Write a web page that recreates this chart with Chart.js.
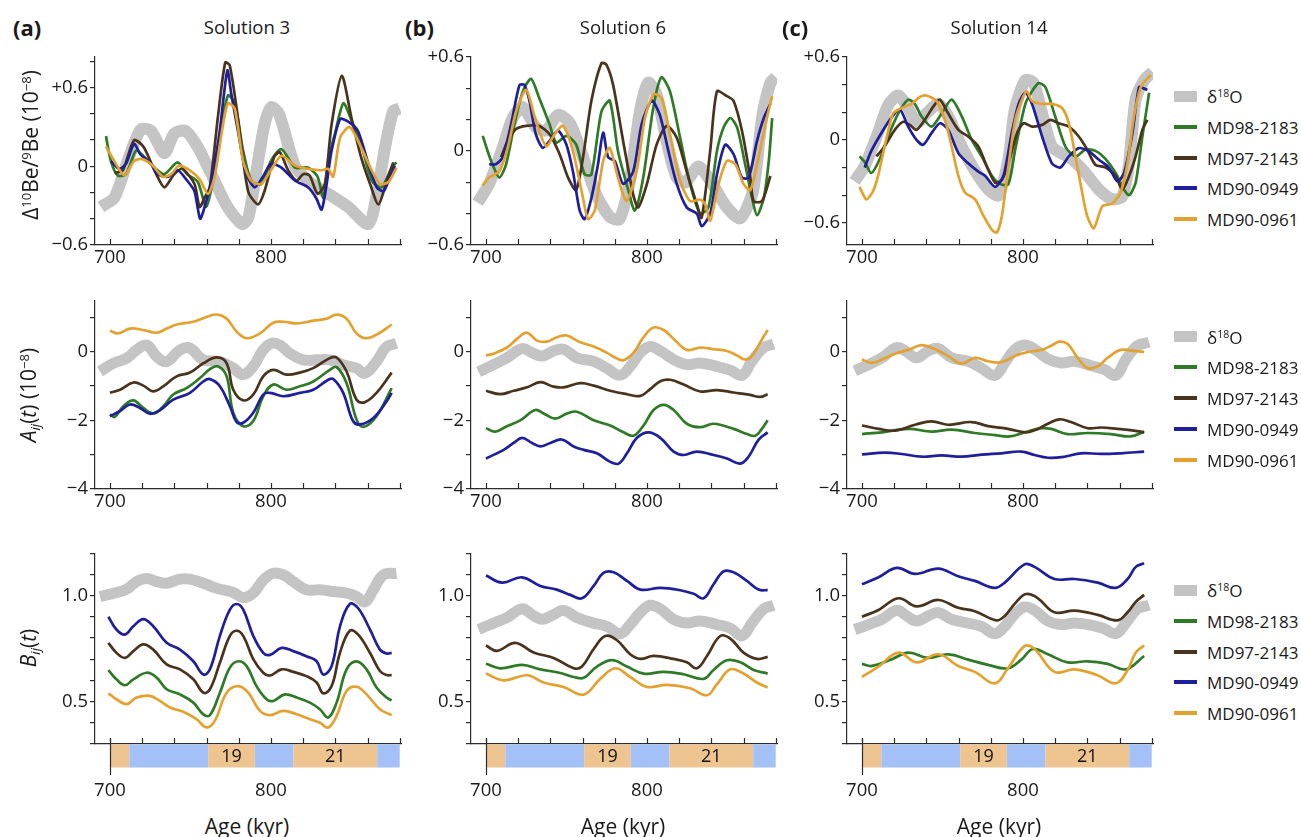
<!DOCTYPE html>
<html>
<head>
<meta charset="utf-8">
<script src="https://cdn.jsdelivr.net/npm/chart.js@4.4.0/dist/chart.umd.min.js"></script>
<style>
  body { margin: 0; background: #fff; font-family: 'Open Sans', sans-serif; color: #1a1a1a; }
  #fig { position: relative; width: 1301px; height: 837px; overflow: hidden; }
  #fig canvas { position: absolute; }
  .txt { position: absolute; white-space: nowrap; line-height: 1; }
  .txt sup { font-size: 0.62em; vertical-align: baseline; position: relative; top: -0.55em; }
  .txt sub { font-size: 0.62em; vertical-align: baseline; position: relative; top: 0.3em; }
</style>
</head>
<body>
<div id="fig"></div>
<script>
// ---- series names / colours ----
const seriesNames = ['δ<sup>18</sup>O', 'MD98-2183', 'MD97-2143', 'MD90-0949', 'MD90-0961'];
const seriesColors = ['#c4c4c4', '#2f7a26', '#4a331c', '#1f1f9c', '#e3a230'];

// ---- x axis (Age, kyr) ----
const xTicks = [700, 720, 740, 760, 780, 800, 820, 840, 860, 880];
const xLabels = [700, 800];

// ---- marine isotope stages under the bottom row ----
const misStart = [700, 712, 761, 790, 814, 866];
const misEnd   = [712, 761, 790, 814, 866, 880];
const misWarm  = [true, false, true, false, true, false];
const misNames = ['', '', '19', '', '21', ''];

// ---- Row 1: Δ10Be/9Be ----
const beTicksSol3 = [-0.6, -0.4, -0.2, 0, 0.2, 0.4, 0.6, 0.8];
const beTicks = [-0.6, -0.4, -0.2, 0, 0.2, 0.4, 0.6];
const beLabels = [-0.6, 0, 0.6];

const be3_d18O = [[694.4,-0.31],[702.7,-0.24],[711,0.04],[719,0.28],[725.5,0.27],[733.8,0.1],[740,0.25],[747,0.27],[754.6,0.145],[763,-0.06],[773,-0.31],[782,-0.44],[786,-0.39],[792,0.04],[796,0.32],[800,0.45],[805,0.4],[815,0.0],[825,-0.13],[835.6,-0.21],[848,-0.31],[860.5,-0.44],[866,-0.2],[871,0.15],[876,0.42],[880,0.44]];
const be3_md98 = [[697.5,0.23],[700.6,0.04],[704.8,-0.07],[710,-0.06],[716.2,0.12],[721.4,0.07],[727.6,-0.01],[733.8,-0.06],[742,0.03],[748,-0.06],[754.6,-0.12],[759.8,-0.31],[764,-0.11],[769,0.27],[773.3,0.54],[777.5,0.48],[782.7,0.12],[787.8,-0.11],[794,-0.135],[800,0.04],[806.5,0.13],[815,-0.01],[823,-0.01],[829,-0.08],[832.5,-0.24],[835.6,0.04],[839.8,0.25],[845,0.48],[850,0.35],[856,0.17],[862.6,-0.11],[868.8,-0.16],[875,-0.01],[878,0.03]];
const be3_md97 = [[703,-0.05],[708,-0.03],[715,0.2],[721,0.145],[728.7,-0.06],[733.8,-0.16],[740,-0.06],[745,-0.02],[752.5,-0.135],[755.7,-0.31],[758.8,-0.24],[762,-0.16],[767,0.37],[771.6,0.79],[774.4,0.77],[779.5,0.37],[785.8,-0.19],[792,-0.29],[796,-0.19],[802,0.07],[805.5,0.107],[810.7,-0.03],[815.9,-0.11],[820,-0.06],[824,-0.07],[829,-0.21],[833.5,-0.135],[837.7,0.32],[844,0.69],[850,0.37],[856,0.07],[861.6,-0.135],[866.8,-0.29],[872,-0.11],[876,0.03]];
const be3_md0949 = [[700.6,0.04],[705.8,-0.02],[710,0.02],[715,0.17],[719,0.09],[725.5,0.02],[729.7,-0.06],[736,-0.08],[742,-0.03],[748,-0.11],[752.5,-0.19],[756,-0.4],[758.8,-0.31],[763,-0.11],[768,0.25],[772.9,0.73],[775.4,0.55],[779.5,0.27],[784.7,-0.06],[790,-0.16],[795,-0.08],[800,0.02],[806.5,-0.01],[815,-0.11],[823,-0.16],[828,-0.24],[831.5,-0.33],[834.6,-0.135],[837.7,0.12],[843,0.36],[848,0.34],[854,0.27],[860.5,0.02],[865.7,-0.16],[870,-0.19],[874,-0.08],[877,0.005]];
const be3_md0961 = [[697.5,0.15],[702.7,0.04],[709,-0.07],[715,0.04],[720,0.055],[726.6,0.005],[732.8,-0.08],[738,-0.06],[743,0.005],[749.4,-0.03],[755.7,-0.1],[760.9,-0.21],[765,-0.08],[770,0.3],[773.3,0.48],[777.5,0.44],[782.7,0.04],[787.8,-0.11],[794,-0.135],[800,-0.03],[806.5,0.08],[815,0.005],[823,-0.02],[831.5,-0.03],[835.6,-0.02],[838.7,-0.08],[843,0.22],[849,0.3],[856,0.145],[862.6,-0.03],[867.8,-0.135],[873,-0.12],[878,-0.01]];

const be6_d18O = [[694.8,-0.33],[702,-0.21],[710.4,0.02],[716.6,0.21],[722.9,0.28],[731,0.15],[737.4,0.13],[744.7,0.23],[752,0.18],[760.3,-0.04],[768.6,-0.28],[776.9,-0.42],[783,-0.435],[789.4,-0.19],[795.6,0.25],[800.8,0.435],[806,0.36],[812.3,0.06],[818.5,-0.17],[824,-0.2],[832,-0.1],[840,-0.2],[849.7,-0.36],[858,-0.43],[866,-0.25],[871.5,0.21],[876.7,0.435],[880,0.47]];
const be6_md98 = [[698,0.096],[701,0],[704,-0.085],[708.3,-0.17],[712.5,-0.085],[717.7,0.17],[722.9,0.38],[728,0.46],[733,0.34],[739.5,0.17],[743.7,0.053],[750,0.096],[756,0.042],[761.3,-0.15],[765.5,-0.15],[771.7,0.25],[776.9,0.32],[782,0],[788.4,-0.25],[792.5,-0.38],[797.7,-0.17],[804,0.28],[809,0.47],[814.3,0.38],[820.6,0.085],[826.8,-0.21],[833,-0.4],[838.2,-0.36],[843.5,0],[847.6,0.15],[851.8,0.21],[856,0.15],[861,-0.085],[865.3,-0.3],[868.4,-0.41],[872.6,-0.3],[875.7,-0.064],[877.8,0.21]];
const be6_md97 = [[709.4,-0.04],[713.5,0.064],[718.7,0.14],[725,0.16],[733,0.16],[739.5,0.106],[745.7,-0.02],[751,-0.17],[756,-0.25],[760.3,-0.04],[765.5,0.32],[771.7,0.56],[774.8,0.55],[779,0.42],[785.2,0.064],[791.5,-0.28],[794.6,-0.36],[800,-0.21],[806,0.04],[812.3,0.16],[818.5,0.085],[824.7,-0.13],[831,-0.34],[834,-0.425],[839.3,0],[843.5,0.38],[849.7,0.35],[853.8,0.32],[859,0.13],[864.2,-0.17],[866.3,-0.32],[871.5,-0.32],[876.7,-0.16]];
const be6_md0949 = [[702,-0.085],[706,-0.085],[710.4,-0.04],[715.6,0.17],[720.8,0.42],[723.9,0.42],[727,0.32],[731,0.106],[735.3,0.02],[739.5,0.064],[744.7,0.13],[750,0.04],[754,-0.13],[758.2,-0.38],[761.3,-0.435],[765.5,-0.3],[769.6,-0.085],[772.8,0.117],[775.9,-0.04],[780,-0.064],[785.2,-0.21],[791.5,-0.13],[796.7,0.17],[803,0.32],[808,0.23],[813.3,0],[818.5,-0.21],[824.7,-0.36],[831,-0.4],[834,-0.48],[839.3,-0.4],[843.5,-0.15],[848.6,0.04],[853.8,-0.02],[859,-0.17],[863.2,-0.17],[868.4,0.064],[872.6,0.21],[876.7,0.3]];
const be6_md0961 = [[698,-0.22],[702,-0.17],[708.3,-0.13],[713.5,0.02],[718.7,0.25],[725,0.39],[731,0.19],[737.4,0.03],[742.6,0.106],[747.8,0.16],[754,0],[760.3,-0.3],[763.4,-0.435],[767.6,-0.38],[772.8,-0.064],[776.9,0.02],[782,-0.17],[787.3,-0.32],[793.6,-0.13],[798.8,0.21],[804,0.36],[809,0.34],[814.3,0.106],[820.6,-0.19],[826.8,-0.32],[833,-0.31],[836.2,-0.34],[839.3,-0.445],[844.5,-0.21],[849.7,-0.064],[854.9,-0.085],[860,-0.21],[864.2,-0.25],[868.4,-0.085],[873.6,0.17],[877.8,0.35]];

const be14_d18O = [[695.4,-0.3],[701.7,-0.19],[710,0.05],[716.2,0.25],[722.5,0.32],[728.7,0.23],[733.9,0.12],[740,0.19],[747.4,0.26],[753.6,0.17],[762,-0.05],[770,-0.22],[778.6,-0.36],[784.8,-0.4],[791,-0.14],[795,0.22],[801.5,0.43],[806.7,0.41],[811.9,0.19],[818,-0.05],[824.3,-0.1],[830.5,-0.14],[838.9,-0.24],[847.2,-0.36],[855.5,-0.43],[861.7,-0.41],[865.9,-0.17],[870,0.29],[875.3,0.43],[880.5,0.49]];
const be14_md98 = [[698.5,-0.12],[701.7,-0.16],[705.8,-0.24],[711,-0.14],[716.2,0.024],[722.5,0.19],[728.7,0.29],[732.8,0.26],[737,0.17],[743.2,0.096],[749.5,0.19],[755.7,0.29],[762,0.17],[768.2,0],[774.4,-0.12],[780.7,-0.26],[785.9,-0.32],[791,-0.32],[795.2,-0.07],[801.5,0.26],[805.6,0.35],[809.8,0.41],[814,0.38],[820,0.17],[826.4,-0.05],[832.6,-0.12],[838.9,-0.07],[845,-0.08],[851.4,-0.14],[857.6,-0.24],[862.8,-0.36],[866,-0.4],[870,-0.31],[874.2,0.024],[878.4,0.34]];
const be14_md97 = [[709,-0.12],[714,-0.048],[720.4,0.072],[725.6,0.13],[729.7,0.108],[733.9,0.072],[739,0.144],[744.3,0.24],[748.4,0.29],[753.6,0.19],[759.9,0.072],[766,0.024],[772.3,-0.048],[777.5,-0.19],[782.7,-0.31],[786.9,-0.29],[791,-0.17],[796.3,0.048],[800.4,0.12],[805.6,0.096],[811.9,0.108],[817,0.144],[822.2,0.12],[828.5,0.096],[834.7,0.024],[839.9,-0.07],[845,-0.18],[851.4,-0.2],[857.6,-0.26],[861.7,-0.36],[866,-0.26],[870,-0.12],[874.2,0.072],[877.3,0.144]];
const be14_md0949 = [[701.7,-0.2],[705.8,-0.08],[712,0.048],[718.3,0.16],[723.5,0.22],[728.7,0.096],[733.9,0],[738,-0.036],[743.2,0.048],[748.4,0.12],[753.6,0.072],[759.9,-0.096],[766,-0.17],[772.3,-0.23],[776.5,-0.26],[782.7,-0.34],[787.9,-0.26],[793,0.048],[797.3,0.26],[801.5,0.34],[805.6,0.26],[811.9,0.024],[818,-0.17],[823.3,-0.2],[828.5,-0.12],[834.7,-0.06],[841,-0.084],[847.2,-0.144],[853.4,-0.2],[858.6,-0.3],[862.8,-0.24],[868,0.048],[872.1,0.38],[875.3,0.37],[877.3,0.36]];
const be14_md0961 = [[698.5,-0.34],[702.7,-0.43],[706.9,-0.37],[710,-0.26],[714.1,-0.048],[719.3,0.19],[724.5,0.23],[730.8,0.26],[736,0.31],[740,0.32],[746.4,0.28],[751.6,0.144],[755.7,-0.048],[759.9,-0.26],[764,-0.38],[770.3,-0.43],[775.5,-0.55],[780.7,-0.65],[783.8,-0.67],[786.9,-0.55],[791,-0.19],[795.2,0.144],[799.4,0.29],[802.5,0.35],[805.6,0.28],[811.9,0.26],[818,0.26],[824.3,0.23],[828.5,0.12],[832.6,-0.12],[836.8,-0.38],[839.9,-0.55],[844,-0.64],[849.3,-0.48],[855.5,-0.46],[860.7,-0.38],[864.9,-0.17],[869,0.17],[873.2,0.38],[879.4,0.47]];

// ---- Row 2: A_ij(t) ----
const aTicks = [-4, -3, -2, -1, 0, 1];
const aLabels = [-4, -2, 0];

const a3_d18O = [[693.8,-0.58],[702,-0.34],[710.4,-0.19],[716.6,0.05],[722.8,0.19],[729,-0.14],[735.2,-0.29],[743.5,0.05],[749.7,0.1],[758,-0.24],[768.3,-0.29],[776.6,-0.48],[782.8,-0.67],[789,-0.43],[795.2,0.05],[800.4,0.24],[805.6,0.19],[811.8,-0.05],[820,-0.24],[828.4,-0.24],[836.6,-0.24],[845,-0.39],[853.2,-0.48],[858.4,-0.63],[865.6,-0.29],[871.8,0.14],[878,0.24]];
const a3_md98 = [[700,-1.83],[703,-1.9],[708.3,-1.59],[714.5,-1.42],[720.7,-1.64],[726.9,-1.8],[733.1,-1.59],[739.3,-1.25],[747.6,-1.06],[755.9,-0.77],[762.1,-0.51],[767.3,-0.43],[772.5,-0.72],[776.6,-1.78],[782.8,-2.17],[789,-2.02],[795.2,-1.3],[801.4,-0.96],[809.7,-1.11],[818,-1.01],[826.3,-0.87],[836.6,-0.53],[840.8,-0.45],[847,-0.92],[853.2,-1.98],[857.4,-2.19],[865.6,-1.88],[875,-1.06]];
const a3_md97 = [[700,-1.2],[706.2,-1.11],[714.5,-0.9],[720.7,-0.99],[726.9,-1.16],[733.1,-1.01],[741.4,-0.72],[749.7,-0.61],[758,-0.34],[766.3,-0.17],[772.5,-0.34],[776.6,-1.11],[782.8,-1.42],[789,-1.25],[795.2,-0.72],[801.4,-0.53],[809.7,-0.67],[818,-0.61],[826.3,-0.48],[836.6,-0.19],[840.8,-0.17],[847,-0.58],[853.2,-1.4],[858.4,-1.47],[865.6,-1.2],[875,-0.61]];
const a3_md0949 = [[700,-1.88],[706.2,-1.73],[712.4,-1.54],[718.6,-1.64],[724.8,-1.81],[731,-1.71],[739.3,-1.4],[749.7,-1.2],[758,-0.87],[762.1,-0.8],[768.3,-1.01],[774.5,-1.59],[778.7,-2.05],[782.8,-2.07],[789,-1.78],[795.2,-1.25],[799.4,-1.2],[807.7,-1.3],[818,-1.2],[826.3,-1.11],[835.6,-0.82],[838.7,-0.8],[844.9,-1.2],[851,-2.02],[855.3,-2.12],[863.6,-1.93],[871.8,-1.45],[875,-1.2]];
const a3_md0961 = [[700,0.61],[705,0.53],[712.4,0.67],[720.7,0.63],[729,0.55],[735.2,0.67],[741.4,0.79],[751.8,0.87],[760,1.01],[766.3,1.08],[772.5,0.96],[778.7,0.58],[784.9,0.39],[793.2,0.53],[801.4,0.84],[807.7,0.87],[816,0.82],[826.3,0.9],[834.6,0.96],[840.8,1.08],[847,0.96],[853.2,0.53],[859.4,0.39],[867.7,0.55],[875,0.79]];

const a6_d18O = [[695.4,-0.59],[704.8,-0.38],[713,-0.18],[722.4,0.09],[728.6,-0.03],[734.8,-0.13],[742,0.02],[748.2,0.07],[756.5,-0.18],[766.9,-0.28],[775,-0.48],[783.4,-0.69],[789.6,-0.43],[795.9,-0.03],[802,0.15],[808.3,0.02],[816.6,-0.23],[824.8,-0.38],[833,-0.33],[843.5,-0.43],[851.8,-0.54],[859,-0.69],[865.2,-0.28],[872.5,0.12],[878.7,0.22]];
const a6_md98 = [[700,-2.23],[705.8,-2.33],[713,-2.17],[721.3,-2.0],[730.6,-1.7],[735.8,-1.8],[743,-1.95],[750.3,-1.8],[756.5,-1.75],[766.9,-2.0],[777.2,-2.15],[785.5,-2.35],[791.7,-2.45],[797.9,-2.15],[804.1,-1.7],[810.4,-1.55],[816.6,-1.7],[824.8,-2.1],[833.1,-2.2],[841.4,-2.1],[853.8,-2.25],[862.1,-2.4],[867.3,-2.45],[871.4,-2.25],[875,-2.0]];
const a6_md97 = [[700,-1.14],[708.9,-1.24],[717.2,-1.14],[725.5,-1.04],[733.7,-0.89],[742,-1.02],[748.2,-1.04],[758.6,-0.92],[766.9,-0.99],[777.2,-1.14],[787.6,-1.24],[795.9,-1.29],[802,-1.09],[808.3,-0.86],[814.5,-0.82],[822.8,-0.96],[833.1,-1.16],[843.5,-1.12],[853.8,-1.19],[864.2,-1.26],[870.4,-1.32],[875,-1.24]];
const a6_md0949 = [[700,-3.11],[711,-2.86],[717.2,-2.66],[722.4,-2.51],[728.6,-2.66],[733.7,-2.76],[740,-2.66],[747.2,-2.56],[754.5,-2.76],[760.7,-2.86],[768.9,-2.96],[777.2,-3.21],[782.4,-3.26],[787.6,-2.96],[793.8,-2.51],[801,-2.35],[808.3,-2.51],[816.6,-2.91],[822.8,-3.01],[831,-2.91],[841.4,-3.01],[849.7,-3.11],[858,-3.26],[863.1,-3.06],[869.4,-2.56],[875,-2.35]];
const a6_md0961 = [[700,-0.11],[704.8,-0.06],[713,0.12],[719.3,0.37],[725.5,0.55],[731.7,0.32],[737.9,0.29],[744,0.42],[750.3,0.47],[758.6,0.27],[766.9,0.15],[775,-0.03],[781.4,-0.2],[785.5,-0.25],[791.7,-0.03],[797.9,0.42],[804.1,0.7],[810.4,0.63],[816.6,0.37],[824.8,0.05],[833.1,0.12],[841.4,0.07],[849.7,0.02],[855.9,-0.11],[861,-0.23],[865.2,-0.13],[870.4,0.27],[875,0.63]];

const a14_d18O = [[695.5,-0.56],[704,-0.38],[712.4,-0.18],[721.6,0.12],[727.8,-0.01],[734,-0.18],[741.2,0.02],[747.4,0.09],[755.7,-0.18],[766,-0.28],[774.2,-0.48],[782.5,-0.69],[788.7,-0.33],[794.8,0.05],[801,0.19],[807.2,0.07],[815.5,-0.21],[823.7,-0.33],[832,-0.28],[842.3,-0.41],[850.5,-0.52],[857.7,-0.69],[863.9,-0.23],[871.1,0.17],[878.4,0.27]];
const a14_md98 = [[700,-2.4],[712.4,-2.35],[728.9,-2.25],[743.3,-2.33],[755.7,-2.27],[770.1,-2.37],[782.5,-2.43],[791.8,-2.47],[801,-2.35],[811.3,-2.23],[817.5,-2.25],[827.8,-2.4],[840.2,-2.37],[854.6,-2.4],[867,-2.47],[875.3,-2.33]];
const a14_md97 = [[700,-2.15],[710.3,-2.25],[720.6,-2.3],[733,-2.13],[743.3,-2.03],[753.6,-2.13],[768,-2.05],[778.4,-2.17],[790.7,-2.25],[802,-2.35],[809.3,-2.25],[815.5,-2.1],[822.7,-1.97],[829.9,-2.05],[840.2,-2.23],[848.5,-2.21],[858.8,-2.25],[869,-2.3],[875.3,-2.35]];
const a14_md0949 = [[700,-2.99],[714.4,-2.94],[724.7,-2.98],[737.1,-3.06],[749.5,-3.02],[761.9,-3.06],[774.2,-3.0],[786.6,-2.96],[799,-2.91],[807.2,-3.01],[815.5,-3.09],[825.8,-3.06],[836,-2.96],[848.5,-2.98],[860.8,-2.96],[875.3,-2.91]];
const a14_md0961 = [[700,-0.23],[706.2,-0.33],[712.4,-0.23],[720.6,-0.06],[728.9,0.05],[737.1,0.19],[745.4,0.07],[753.6,-0.13],[761.9,-0.35],[770.1,-0.18],[778.4,-0.28],[786.6,-0.31],[794.8,-0.13],[803.1,-0.01],[811.3,0.05],[817.5,0.17],[822.7,0.29],[827.8,0.22],[834,-0.18],[840.2,-0.48],[846.4,-0.43],[852.6,-0.18],[860.8,0.05],[869,0.02],[875.3,-0.01]];

// ---- Row 3: B_ij(t) ----
const bTicks = [0.3, 0.4, 0.5, 0.6, 0.7, 0.8, 0.9, 1.0, 1.1, 1.2];
const bLabels = [0.5, 1.0];

const b3_d18O = [[693.8,0.995],[702,1.01],[710.4,1.03],[716.6,1.066],[722.8,1.08],[729,1.066],[735.2,1.058],[743.5,1.077],[749.7,1.077],[758,1.058],[766.3,1.034],[776.6,1.014],[782.8,0.99],[789,1.011],[795.2,1.073],[801.4,1.105],[807.7,1.097],[813.9,1.066],[822,1.027],[830.4,1.027],[838.7,1.019],[847,1.011],[853.2,0.995],[858.4,0.97],[863.6,1.027],[869.8,1.097],[878,1.105]];
const b3_md98 = [[699,0.648],[704,0.605],[709.3,0.577],[714.5,0.605],[722.8,0.636],[729,0.613],[735.2,0.558],[743.5,0.534],[751.8,0.495],[758,0.44],[762.1,0.436],[768.3,0.542],[774.5,0.66],[779.7,0.69],[784.9,0.667],[791,0.573],[797.3,0.511],[801.4,0.503],[808.7,0.534],[816,0.519],[824.2,0.495],[830.4,0.464],[835.6,0.425],[840.8,0.495],[847,0.652],[853.2,0.69],[859.4,0.652],[865.6,0.566],[871.8,0.519],[875,0.506]];
const b3_md97 = [[699,0.777],[704,0.73],[709.3,0.706],[714.5,0.738],[720.7,0.77],[726.9,0.745],[735.2,0.675],[743.5,0.652],[751.8,0.605],[758,0.542],[762.1,0.558],[768.3,0.683],[774.5,0.81],[778.7,0.834],[782.8,0.81],[789,0.7],[795.2,0.636],[799.4,0.623],[806.6,0.652],[813.9,0.64],[822,0.62],[828.4,0.59],[832.5,0.539],[837.7,0.573],[842.9,0.73],[849,0.834],[854.2,0.816],[861.5,0.73],[867.7,0.644],[871.8,0.625],[875,0.625]];
const b3_md0949 = [[699,0.9],[704,0.84],[709.3,0.816],[714.5,0.855],[720.7,0.889],[726.9,0.855],[735.2,0.777],[743.5,0.745],[751.8,0.69],[758,0.628],[762.1,0.652],[768.3,0.81],[774.5,0.933],[778.7,0.96],[782.8,0.933],[789,0.81],[795.2,0.73],[799.4,0.72],[806.6,0.753],[813.9,0.738],[822,0.714],[828.4,0.69],[832.5,0.628],[837.7,0.667],[842.9,0.855],[849,0.96],[854.2,0.94],[861.5,0.84],[867.7,0.745],[871.8,0.727],[875,0.73]];
const b3_md0961 = [[699,0.539],[704,0.511],[710.4,0.488],[716.6,0.519],[724.8,0.527],[731,0.503],[737.3,0.472],[745.5,0.452],[753.8,0.417],[760,0.378],[765.2,0.41],[772.5,0.542],[779.7,0.573],[785.9,0.542],[793.2,0.456],[799.4,0.436],[807.7,0.456],[816,0.44],[824.2,0.417],[830.4,0.4],[835.6,0.378],[840.8,0.433],[847,0.55],[853.2,0.57],[859.4,0.534],[867.7,0.464],[875,0.436]];

const b6_d18O = [[695.4,0.84],[704.8,0.87],[713,0.896],[722.4,0.937],[728.6,0.91],[734.8,0.888],[742,0.91],[748.2,0.93],[756.5,0.896],[766.9,0.87],[775,0.855],[783.4,0.82],[789.6,0.863],[795.9,0.92],[802,0.954],[808.3,0.937],[816.6,0.888],[824.8,0.87],[833,0.88],[843.5,0.863],[851.8,0.846],[859,0.81],[865.2,0.87],[872.5,0.937],[878.7,0.954]];
const b6_md98 = [[700,0.678],[708.9,0.657],[722.4,0.673],[733.7,0.652],[746.2,0.635],[754.5,0.616],[760.7,0.612],[768.9,0.665],[778.3,0.695],[787.6,0.665],[798,0.632],[810.4,0.64],[822.8,0.629],[835.2,0.607],[841.4,0.649],[849.7,0.695],[858,0.685],[866.3,0.649],[875,0.632]];
const b6_md97 = [[700,0.764],[706.8,0.739],[718.2,0.777],[729.6,0.731],[742,0.706],[754.5,0.657],[759.6,0.665],[766.9,0.748],[774.1,0.809],[781.4,0.789],[789.6,0.723],[795.9,0.701],[804.1,0.715],[816.6,0.701],[824.8,0.685],[831,0.657],[837.3,0.715],[845.5,0.809],[851.8,0.797],[860,0.731],[868.3,0.701],[875,0.711]];
const b6_md0949 = [[700,1.094],[710,1.061],[722.4,1.086],[733.7,1.045],[744,1.028],[752.4,1.003],[759.6,0.987],[766.9,1.045],[773,1.107],[779.3,1.11],[787.6,1.069],[795.9,1.028],[808.3,1.036],[820.7,1.025],[829,1.008],[835.2,0.987],[841.4,1.053],[847.6,1.114],[853.8,1.11],[862.1,1.069],[869.4,1.028],[875,1.025]];
const b6_md0961 = [[700,0.632],[711,0.6],[725.5,0.624],[735.8,0.59],[748.2,0.569],[760.7,0.533],[771,0.607],[780.3,0.657],[789.6,0.616],[800,0.569],[812.4,0.579],[826.9,0.563],[837.3,0.53],[843.5,0.582],[851.8,0.652],[860,0.632],[868.3,0.59],[875,0.566]];

const b14_d18O = [[695.5,0.84],[704,0.863],[712.4,0.888],[721.6,0.93],[727.8,0.904],[734,0.88],[741.2,0.904],[747.4,0.92],[755.7,0.888],[766,0.87],[774.2,0.855],[782.5,0.82],[788.7,0.855],[794.8,0.912],[801,0.946],[807.2,0.93],[815.5,0.88],[823.7,0.863],[832,0.87],[842.3,0.86],[850.5,0.843],[857.7,0.82],[863.9,0.87],[871.1,0.937],[878.4,0.954]];
const b14_md98 = [[700,0.678],[706.2,0.668],[718.6,0.7],[728.9,0.731],[741.2,0.706],[753.6,0.723],[766,0.698],[778.4,0.673],[790.7,0.657],[799,0.698],[806.2,0.748],[815.5,0.723],[827.8,0.685],[840.2,0.69],[852.6,0.678],[863.9,0.652],[875.3,0.715]];
const b14_md97 = [[700,0.9],[710.3,0.932],[722.7,0.987],[734,0.949],[747.4,0.979],[759.8,0.942],[770.1,0.926],[783.5,0.883],[788.7,0.904],[795.9,0.97],[802,1.007],[809.3,0.987],[819.6,0.921],[832,0.929],[846.4,0.909],[858.8,0.883],[865,0.921],[870.1,0.97],[875.3,1.003]];
const b14_md0949 = [[700,1.053],[710.3,1.086],[721.6,1.13],[733,1.102],[747.4,1.127],[759.8,1.091],[770.1,1.069],[782.5,1.036],[788.7,1.061],[801,1.147],[807.2,1.135],[819.6,1.078],[832,1.078],[846.4,1.061],[857.7,1.036],[865,1.078],[870.1,1.135],[875.3,1.152]];
const b14_md0961 = [[700,0.616],[710.3,0.665],[722.7,0.731],[734,0.685],[747.4,0.723],[759.8,0.668],[770.1,0.64],[782.5,0.586],[790.7,0.657],[801,0.761],[807.2,0.748],[819.6,0.64],[832,0.652],[846.4,0.624],[857.7,0.586],[865,0.649],[870.1,0.731],[875.3,0.764]];

// ---- layout ----
const axisColor = '#2b2b2b';
const xMin = 690.7, xMax = 880.8;
const colLeft = [95, 471, 847];
const plotW = 306;
// xDrop: invisible tick length that pushes the x labels below the MIS bar
const rows = [
  { top: 56,  h: 190, xH: 30, xDrop: 0,  tension: 0.25, grayW: 12 },
  { top: 300, h: 190, xH: 30, xDrop: 0,  tension: 0.4,  grayW: 11 },
  { top: 553, h: 192, xH: 62, xDrop: 34, tension: 0.4,  grayW: 11 }
];
const Y_W = 60, PAD_T = 12, PAD_R = 12;

const fmtBe = v => v > 0 ? '+' + v.toFixed(1) : v < 0 ? '\u2212' + Math.abs(v).toFixed(1) : '0';
const fmtA = v => v < 0 ? '\u2212' + Math.abs(v) : String(v);
const fmtB = v => v.toFixed(1);

const panels = [
  // row 0
  { row: 0, col: 0, series: [be3_d18O, be3_md98, be3_md97, be3_md0949, be3_md0961], yMin: -0.6, yMax: 0.84, ticks: beTicksSol3, labels: beLabels, fmt: fmtBe },
  { row: 0, col: 1, series: [be6_d18O, be6_md98, be6_md97, be6_md0949, be6_md0961], yMin: -0.6, yMax: 0.605, ticks: beTicks, labels: beLabels, fmt: fmtBe },
  { row: 0, col: 2, series: [be14_d18O, be14_md98, be14_md97, be14_md0949, be14_md0961], yMin: -0.76, yMax: 0.605, ticks: beTicks, labels: beLabels, fmt: fmtBe },
  // row 1
  { row: 1, col: 0, series: [a3_d18O, a3_md98, a3_md97, a3_md0949, a3_md0961], yMin: -4, yMax: 1.5, ticks: aTicks, labels: aLabels, fmt: fmtA },
  { row: 1, col: 1, series: [a6_d18O, a6_md98, a6_md97, a6_md0949, a6_md0961], yMin: -4, yMax: 1.5, ticks: aTicks, labels: aLabels, fmt: fmtA },
  { row: 1, col: 2, series: [a14_d18O, a14_md98, a14_md97, a14_md0949, a14_md0961], yMin: -4, yMax: 1.5, ticks: aTicks, labels: aLabels, fmt: fmtA },
  // row 2
  { row: 2, col: 0, series: [b3_d18O, b3_md98, b3_md97, b3_md0949, b3_md0961], yMin: 0.3, yMax: 1.2, ticks: bTicks, labels: bLabels, fmt: fmtB },
  { row: 2, col: 1, series: [b6_d18O, b6_md98, b6_md97, b6_md0949, b6_md0961], yMin: 0.3, yMax: 1.2, ticks: bTicks, labels: bLabels, fmt: fmtB },
  { row: 2, col: 2, series: [b14_d18O, b14_md98, b14_md97, b14_md0949, b14_md0961], yMin: 0.3, yMax: 1.2, ticks: bTicks, labels: bLabels, fmt: fmtB }
];

Chart.defaults.font.family = "'Open Sans', sans-serif";
Chart.defaults.color = '#1a1a1a';

// inward x ticks, plus the MIS bar under the bottom row
const xMarks = {
  id: 'xMarks',
  afterDraw(chart, args, opts) {
    const { ctx, chartArea: ca, scales: { x } } = chart;
    ctx.save();
    if (opts.mis) {
      const y0 = ca.bottom + 0.5, hBar = 23;
      misStart.forEach((s, i) => {
        const x0 = x.getPixelForValue(s), x1 = x.getPixelForValue(misEnd[i]);
        ctx.fillStyle = misWarm[i] ? '#eec591' : '#a3c0f7';
        ctx.fillRect(x0, y0, x1 - x0, hBar);
        if (misNames[i]) {
          ctx.fillStyle = '#111';
          ctx.font = "18px 'Open Sans', sans-serif";
          ctx.textAlign = 'center';
          ctx.textBaseline = 'middle';
          ctx.fillText(misNames[i], (x0 + x1) / 2, y0 + hBar / 2 + 1);
        }
      });
      const p700 = Math.round(x.getPixelForValue(700)) + 0.5;
      ctx.strokeStyle = axisColor;
      ctx.lineWidth = 1.2;
      ctx.beginPath();
      ctx.moveTo(p700, ca.bottom - 6);
      ctx.lineTo(p700, ca.bottom + 31);
      ctx.stroke();
    }
    ctx.strokeStyle = axisColor;
    ctx.lineWidth = 1.2;
    xTicks.forEach(t => {
      const px = Math.round(x.getPixelForValue(t)) + 0.5;
      ctx.beginPath();
      ctx.moveTo(px, ca.bottom);
      ctx.lineTo(px, ca.bottom - 6);
      ctx.stroke();
    });
    ctx.restore();
  }
};

const fig = document.getElementById('fig');

panels.forEach(p => {
  const r = rows[p.row];
  const canvas = document.createElement('canvas');
  canvas.width = Y_W + plotW + PAD_R;
  canvas.height = PAD_T + r.h + r.xH;
  fig.appendChild(canvas);

  const datasets = p.series.map((pts, i) => ({
    label: seriesNames[i],
    data: pts.map(d => ({ x: d[0], y: d[1] })),
    borderColor: seriesColors[i],
    borderWidth: i === 0 ? r.grayW : 2.7,
    pointRadius: 0,
    tension: r.tension,
    borderJoinStyle: 'round',
    fill: false,
    order: 5 - i
  }));

  const chart = new Chart(canvas, {
    type: 'line',
    data: { datasets },
    options: {
      responsive: false,
      animation: false,
      events: [],
      layout: { padding: { top: PAD_T, right: PAD_R, left: 0, bottom: 0 } },
      plugins: {
        legend: { display: false },
        tooltip: { enabled: false },
        xMarks: { mis: p.row === 2 }
      },
      scales: {
        x: {
          type: 'linear',
          min: xMin,
          max: xMax,
          afterBuildTicks: s => { s.ticks = xTicks.map(v => ({ value: v })); },
          afterFit: s => { s.height = r.xH; },
          ticks: {
            autoSkip: false,
            maxRotation: 0,
            padding: 2,
            font: { size: 18.5 },
            callback: v => xLabels.includes(v) ? String(v) : ''
          },
          grid: {
            display: true, drawOnChartArea: false,
            drawTicks: r.xDrop > 0, tickLength: r.xDrop, color: 'rgba(0,0,0,0)'
          },
          border: { display: true, color: axisColor, width: 1.2 }
        },
        y: {
          min: p.yMin,
          max: p.yMax,
          afterBuildTicks: s => { s.ticks = p.ticks.map(v => ({ value: v })); },
          afterFit: s => { s.width = Y_W; },
          ticks: {
            autoSkip: false,
            padding: 2,
            font: { size: 18.5 },
            callback: v => {
              const hit = p.labels.find(l => Math.abs(l - v) < 1e-6);
              return hit === undefined ? '' : p.fmt(hit);
            }
          },
          grid: { display: true, drawOnChartArea: false, drawTicks: true, tickLength: 5, color: axisColor, lineWidth: 1.2 },
          border: { display: true, color: axisColor, width: 1.2 }
        }
      }
    },
    plugins: [xMarks]
  });

  // put the plot area where it sits in the figure
  const ca = chart.chartArea;
  canvas.style.left = (colLeft[p.col] - ca.left) + 'px';
  canvas.style.top = (r.top - ca.top) + 'px';
});

// ---- text: panel letters, titles, axis titles, legends ----
function addText(html, left, top, css) {
  const d = document.createElement('div');
  d.className = 'txt';
  d.innerHTML = html;
  d.style.left = left + 'px';
  d.style.top = top + 'px';
  Object.assign(d.style, css || {});
  fig.appendChild(d);
  return d;
}
const center = { transform: 'translate(-50%, -50%)' };

const panelLetters = ['(a)', '(b)', '(c)'];
const panelTitles = ['Solution 3', 'Solution 6', 'Solution 14'];
const letterX = [13, 405, 782];
panelLetters.forEach((t, i) => {
  addText(t, letterX[i], 27, { fontWeight: 'bold', fontSize: '22px', transform: 'translateY(-50%)' });
  addText(panelTitles[i], colLeft[i] + 152, 27, Object.assign({ fontSize: '18.5px' }, center));
  addText('Age (kyr)', colLeft[i] + 152, 826, Object.assign({ fontSize: '21px' }, center));
});

const rot = { transform: 'translate(-50%, -50%) rotate(-90deg)', fontSize: '21px' };
addText('Δ<sup>10</sup>Be/<sup>9</sup>Be (10<sup>\u22128</sup>)', 30, 145, rot);
addText('<i>A</i><sub><i>ij</i></sub>(<i>t</i>) (10<sup>\u22128</sup>)', 28, 395, rot);
addText('<i>B</i><sub><i>ij</i></sub>(<i>t</i>)', 28, 648, rot);

const legendTops = [96, 336.5, 590];
legendTops.forEach(y0 => {
  seriesNames.forEach((name, i) => {
    const y = y0 + i * 30.8;
    const h = i === 0 ? 11 : 4;
    const sw = document.createElement('div');
    sw.style.cssText = `position:absolute;left:1174px;top:${y - h / 2}px;width:23px;height:${h}px;background:${seriesColors[i]}`;
    fig.appendChild(sw);
    addText(name, 1207, y, { fontSize: '17px', transform: 'translateY(-50%)' });
  });
});
</script>
</body>
</html>
